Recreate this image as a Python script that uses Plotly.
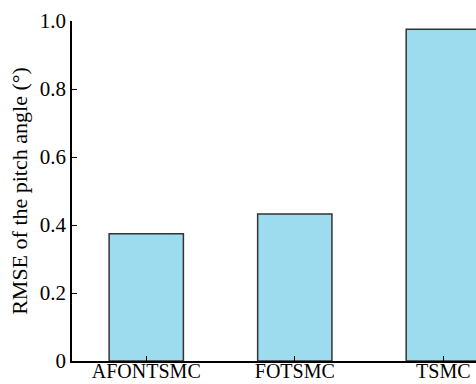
import plotly.graph_objects as go

categories = ["AFONTSMC", "FOTSMC", "TSMC"]
rmse_values = [0.374, 0.432, 0.976]
y_ticks = [0, 0.2, 0.4, 0.6, 0.8, 1.0]
y_tick_labels = ["0", "0.2", "0.4", "0.6", "0.8", "1.0"]

font_family = "Liberation Serif, Times New Roman, serif"

fig = go.Figure(
    go.Bar(
        x=categories,
        y=rmse_values,
        width=0.5,
        marker=dict(color="#9ddbee", line=dict(color="#333333", width=1.5)),
    )
)

fig.update_layout(
    width=476,
    height=384,
    margin=dict(l=72, r=0, t=21, b=23, autoexpand=False),
    paper_bgcolor="white",
    plot_bgcolor="white",
    showlegend=False,
    font=dict(family=font_family, size=21, color="black"),
)

fig.update_xaxes(
    type="category",
    range=[-0.5, 2.22],
    automargin=False,
    showline=True,
    linecolor="black",
    linewidth=1.5,
    ticks="inside",
    ticklen=5,
    tickwidth=1,
    tickcolor="black",
    showgrid=False,
    zeroline=False,
    ticklabelstandoff=-9,
    tickfont=dict(family=font_family, size=20),
)

fig.update_yaxes(
    range=[0, 1.0],
    automargin=False,
    tickvals=y_ticks,
    ticktext=y_tick_labels,
    showline=True,
    linecolor="black",
    linewidth=1.5,
    ticks="inside",
    ticklen=5,
    tickwidth=1,
    tickcolor="black",
    showgrid=False,
    zeroline=False,
    tickfont=dict(family=font_family, size=21),
    title=dict(text="RMSE of the pitch angle (°)", font=dict(family=font_family, size=22), standoff=6),
)

fig.write_html(
    "out.html",
    config={"displayModeBar": False},
    post_script="document.body.style.margin='0px';document.body.style.overflow='hidden';",
)
